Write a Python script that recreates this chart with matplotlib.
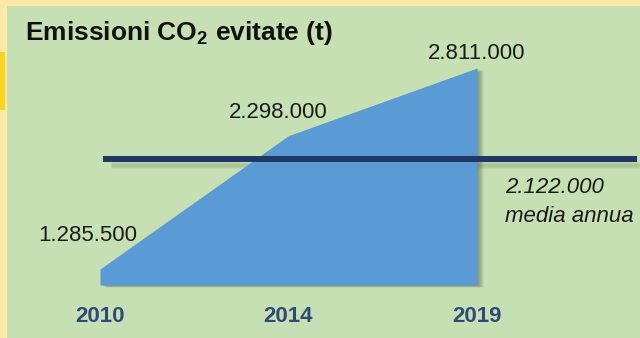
import matplotlib
matplotlib.use('Agg')
import matplotlib.pyplot as plt
from matplotlib.patches import Rectangle
from matplotlib.transforms import offset_copy

years = ['2010', '2014', '2019']
emissioni = [1285500, 2298000, 2811000]
media_annua = 2122000

# pixel layout of the original slide (640 x 338)
W, H = 640, 338
PX = 0.72  # points per pixel at dpi 100
x0_px, dx_px = 100, 188.5           # pixel x of first category, spacing
py_per_t = 201 / 1525500            # pixel per tonne
y_zero_px = 438.4                   # pixel y where value 0 would be
base_px = 285                       # bottom of the area

plt.rcParams['font.family'] = ['Liberation Sans', 'DejaVu Sans']
plt.rcParams['mathtext.default'] = 'regular'

fig = plt.figure(figsize=(W / 100, H / 100), dpi=100, facecolor='#fce9a8')
fig.patches.append(Rectangle((7 / W, 0), 1, (H - 6) / H, transform=fig.transFigure,
                             facecolor='#c6e0b4', edgecolor='none', zorder=-10))
fig.patches.append(Rectangle((0, (H - 110) / H), 5 / W, 58 / H, transform=fig.transFigure,
                             facecolor='#fcd31c', edgecolor='none', zorder=-10))

ax = fig.add_axes([0, 0, 1, 1])
ax.set_facecolor('none')
ax.axis('off')
ax.set_xlim(-x0_px / dx_px, (W - x0_px) / dx_px)
ax.set_ylim((y_zero_px - H) / py_per_t, y_zero_px / py_per_t)
base = (y_zero_px - base_px) / py_per_t

xs = list(range(len(years)))

# soft shadow behind the area
for i in range(1, 8):
    tr = offset_copy(ax.transData, fig=fig, x=i * 0.9 * PX, y=-i * 0.3 * PX, units='points')
    ax.fill_between(xs, base, emissioni, color='#2f3d25', alpha=0.07, lw=0, transform=tr, zorder=1)
ax.fill_between(xs, base, emissioni, color='#5b9bd5', lw=0, zorder=2)

# mean line with shadow
for i in range(1, 6):
    tr = offset_copy(ax.transData, fig=fig, x=2 * PX, y=-(3 + i) * PX, units='points')
    ax.hlines(media_annua, 0.05, 2.85, color='#4a5a40', alpha=0.07, lw=3 * PX, transform=tr, zorder=1.5)
ax.hlines(media_annua, 0.016, 2.85, color='#1f3864', lw=6 * PX, zorder=3)

fmt = lambda v: f"{v:,}".replace(',', '.')
label_off = [(-12, 34), (-10, 23), (0, 15)]
for x, v, (ox, oy) in zip(xs, emissioni, label_off):
    ax.annotate(fmt(v), (x, v), xytext=(ox * PX, oy * PX), textcoords='offset points',
                ha='center', va='center', fontsize=16, color='#1a1a1a', zorder=4)

ax.annotate(fmt(media_annua), (xs[-1], media_annua), xytext=(28 * PX, -29 * PX),
            textcoords='offset points', ha='left', va='center', fontsize=16,
            style='italic', color='#1a1a1a', zorder=4)
ax.annotate('media annua', (xs[-1], media_annua), xytext=(28 * PX, -58 * PX),
            textcoords='offset points', ha='left', va='center', fontsize=16,
            style='italic', color='#1a1a1a', zorder=4)

for x, y in zip(xs, years):
    ax.annotate(y, (x, base), xytext=(0, -32 * PX), textcoords='offset points',
                ha='center', va='center', fontsize=16, fontweight='bold', color='#2e4a78')

fig.text(25 / W, 1 - 33 / H, 'Emissioni CO$_2$ evitate (t)', ha='left', va='center',
         fontsize=19, fontweight='bold', color='#111111')

fig.savefig('out.png', dpi=100, facecolor=fig.get_facecolor())
